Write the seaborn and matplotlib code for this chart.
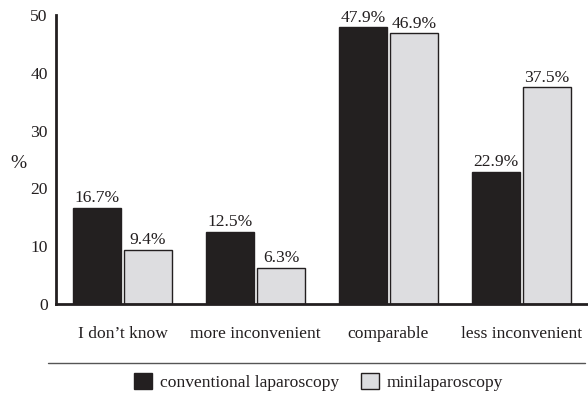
import matplotlib
matplotlib.use("Agg")
import matplotlib.pyplot as plt
from matplotlib.patches import Patch
from matplotlib.lines import Line2D
import seaborn as sns
import pandas as pd

categories = ["I don\u2019t know", "more inconvenient", "comparable", "less inconvenient"]
conventional = [16.7, 12.5, 47.9, 22.9]
mini = [9.4, 6.3, 46.9, 37.5]
series_names = ["conventional laparoscopy", "minilaparoscopy"]
y_ticks = [0, 10, 20, 30, 40, 50]

ink = "#231f20"
colors = {series_names[0]: "#231f20", series_names[1]: "#dcdde0"}

df = pd.DataFrame({
    "category": categories * 2,
    "value": conventional + mini,
    "series": [series_names[0]] * len(categories) + [series_names[1]] * len(categories),
})

sns.set_theme(style="white")
plt.rcParams["font.family"] = ["Liberation Serif", "DejaVu Serif"]
plt.rcParams["text.color"] = ink
plt.rcParams["axes.labelcolor"] = ink
plt.rcParams["xtick.color"] = ink
plt.rcParams["ytick.color"] = ink

fs = 12.6

fig = plt.figure(figsize=(5.88, 3.98), dpi=100)
ax = fig.add_axes([0.0952, 0.236, 0.9048, 0.726])

sns.barplot(data=df, x="category", y="value", hue="series", order=categories,
            hue_order=series_names, palette=colors, width=0.77, gap=0.05,
            edgecolor=ink, linewidth=1.0, legend=False, ax=ax)

# value labels above each bar
for container, vals in zip(ax.containers, [conventional, mini]):
    ax.bar_label(container, labels=[f"{v:.1f}%" for v in vals], padding=1,
                 fontsize=fs, color=ink)

ax.set_xlim(-0.5, 3.5)
ax.set_ylim(0, 50)
ax.set_yticks(y_ticks)
ax.set_yticklabels([str(t) for t in y_ticks], fontsize=fs)
ax.set_xlabel("")
ax.set_ylabel("")
ax.tick_params(axis="y", direction="in", length=10, width=1.6, pad=6)
ax.tick_params(axis="x", which="major", length=0, pad=16, labelsize=fs)
ax.set_xticks([0.5, 1.5, 2.5, 3.5], minor=True)
ax.tick_params(axis="x", which="minor", direction="in", length=4, width=1.6)

for side in ["top", "right"]:
    ax.spines[side].set_visible(False)
for side in ["left", "bottom"]:
    ax.spines[side].set_color(ink)
    ax.spines[side].set_linewidth(2.0)

fig.text(18 / 588, 1 - 164 / 398, "%", fontsize=14, ha="center", va="center", color=ink)

# rule above the legend
fig.add_artist(Line2D([48 / 588, 585 / 588], [1 - 363 / 398] * 2, color="#555555", linewidth=1.0))

handles = [Patch(facecolor=colors[n], edgecolor=ink, linewidth=1.0, label=n) for n in series_names]
fig.legend(handles=handles, loc="center", bbox_to_anchor=(0.542, 1 - 382 / 398), ncol=2,
           frameon=False, fontsize=fs, handlelength=1.0, handleheight=1.0,
           handletextpad=0.45, columnspacing=1.3)

fig.savefig("out.png", dpi=100)
